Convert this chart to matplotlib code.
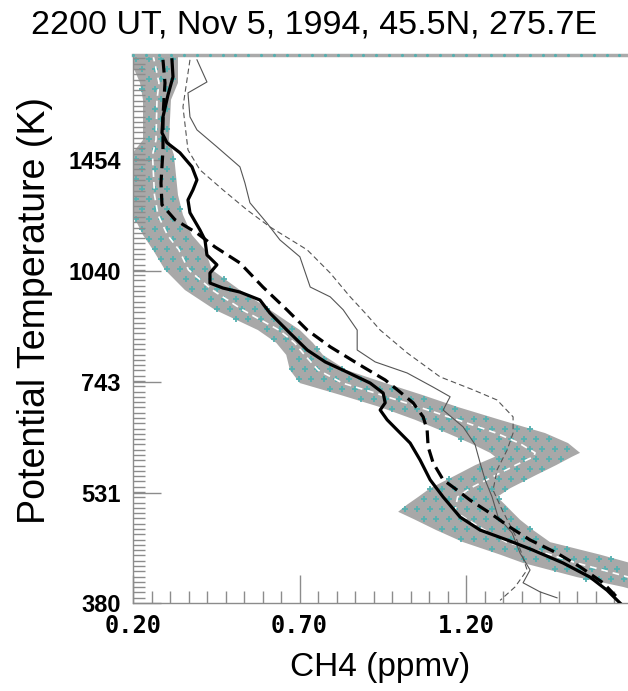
import numpy as np
import matplotlib
matplotlib.use("Agg")
import matplotlib.pyplot as plt
from matplotlib.path import Path
from matplotlib.ticker import FixedLocator, FixedFormatter, NullFormatter

plt.rcParams["font.family"] = ["Liberation Sans", "DejaVu Sans"]

# climatology band (theta in K, CH4 in ppmv): lower and upper edge
band_theta = [2001, 1838, 1746, 1546, 1477, 1309, 1232, 1159, 1108, 1043,
              981, 924, 869, 836, 806, 770, 740, 714, 688, 662,
              636, 617, 599, 592, 577, 560, 538, 524, 512, 501,
              489, 474, 457, 440, 429, 411, 399, 380]
band_lo = [0.185, 0.221, 0.230, 0.230, 0.194, 0.194, 0.200, 0.230, 0.260, 0.296,
           0.356, 0.446, 0.575, 0.630, 0.660, 0.671, 0.701, 0.822, 0.942, 1.047,
           1.143, 1.212, 1.272, 1.287, 1.227, 1.170, 1.092, 1.056, 1.023, 0.996,
           1.047, 1.110, 1.191, 1.302, 1.371, 1.533, 1.671, 1.843]
band_hi = [0.335, 0.335, 0.314, 0.308, 0.323, 0.335, 0.350, 0.377, 0.416, 0.437,
           0.521, 0.611, 0.701, 0.740, 0.770, 0.840, 0.957, 1.068, 1.176, 1.302,
           1.437, 1.506, 1.542, 1.518, 1.470, 1.410, 1.332, 1.293, 1.317, 1.338,
           1.362, 1.401, 1.452, 1.602, 1.693, 1.843, 1.963, 2.143]

# thick solid profile
solid_theta = [1971, 1872, 1772, 1658, 1580, 1533, 1487, 1425, 1370, 1329,
               1289, 1240, 1177, 1142, 1091, 1059, 1033, 1002, 987, 975,
               952, 915, 869, 818, 789, 765, 740, 718, 697, 682,
               662, 642, 617, 586, 552, 524, 493, 474, 460, 446,
               429, 411, 395, 380]
solid_ch4 = [0.317, 0.320, 0.305, 0.290, 0.287, 0.302, 0.341, 0.377, 0.392, 0.380,
             0.365, 0.371, 0.401, 0.416, 0.422, 0.452, 0.431, 0.431, 0.470, 0.521,
             0.581, 0.611, 0.662, 0.723, 0.777, 0.843, 0.912, 0.951, 0.957, 0.942,
             0.963, 0.993, 1.032, 1.062, 1.092, 1.131, 1.182, 1.242, 1.323, 1.401,
             1.491, 1.572, 1.623, 1.662]

# thick dashed profile
dash_theta = [1971, 1838, 1658, 1500, 1357, 1270, 1214, 1166, 1118, 1065,
              990, 924, 869, 826, 777, 747, 720, 697, 668, 642,
              610, 581, 552, 535, 519, 499, 478, 460, 442, 424, 404, 383]
dash_ch4 = [0.290, 0.296, 0.290, 0.290, 0.284, 0.287, 0.326, 0.392, 0.446, 0.521,
            0.590, 0.662, 0.723, 0.792, 0.891, 0.957, 1.002, 1.041, 1.071, 1.083,
            1.086, 1.101, 1.131, 1.173, 1.212, 1.272, 1.332, 1.392, 1.473, 1.542,
            1.611, 1.662]

# thin solid profile
thin_theta = [1971, 1843, 1783, 1658, 1594, 1514, 1425, 1357, 1278, 1202,
              1142, 1085, 990, 961, 924, 869, 818, 789, 763, 731,
              710, 682, 648, 614, 581, 552, 524, 493, 470, 442,
              420, 404, 393, 386]
thin_ch4 = [0.392, 0.422, 0.365, 0.371, 0.392, 0.452, 0.521, 0.536, 0.551, 0.602,
            0.641, 0.701, 0.732, 0.792, 0.831, 0.873, 0.873, 0.927, 1.023, 1.101,
            1.152, 1.131, 1.191, 1.227, 1.242, 1.257, 1.278, 1.296, 1.338, 1.362,
            1.392, 1.371, 1.422, 1.473]

# thin dashed profile
thind_theta = [1971, 1709, 1500, 1412, 1329, 1251, 1188, 1108, 1033, 961,
               915, 869, 811, 754, 725, 703, 668, 636, 604, 569,
               535, 504, 467, 440, 420, 399, 383]
thind_ch4 = [0.371, 0.350, 0.365, 0.401, 0.470, 0.542, 0.611, 0.723, 0.792, 0.852,
             0.897, 0.942, 1.023, 1.122, 1.221, 1.293, 1.341, 1.341, 1.323, 1.293,
             1.281, 1.308, 1.347, 1.368, 1.383, 1.347, 1.302]

theta_ticks = [380, 531, 743, 1040, 1454]
theta_labels = ["380", "531", "743", "1040", "1454"]
ch4_ticks = [0.20, 0.70, 1.20]
ch4_labels = ["0.20", "0.70", "1.20"]

W, H = 628, 691
fig = plt.figure(figsize=(W / 100, H / 100), dpi=100)
ax = fig.add_axes([133 / W, 88 / H, 495 / W, 548 / H])
ax.set_yscale("log")
ax.set_xlim(0.2, 1.686)
ax.set_ylim(380, 2000)

grey = "#a8a8a8"
teal = "#55b0b0"

lo = np.array(band_lo)
hi = np.array(band_hi)
th = np.array(band_theta)
ax.fill_betweenx(th, lo, hi, color=grey, lw=0, zorder=1)

# dotted '+' texture inside the band
verts = np.column_stack([np.r_[lo, hi[::-1]], np.r_[th, th[::-1]]])
poly = Path(ax.transData.transform(verts))
bb = ax.get_window_extent()
pts = []
for j, yy in enumerate(np.arange(bb.y0 + 4, bb.y1, 10.0)):
    off = 6.25 if j % 2 else 0.0
    for xx in np.arange(bb.x0 + 3 + off, bb.x1, 12.5):
        pts.append((xx, yy))
pts = np.array(pts)
pts = pts[poly.contains_points(pts)]
pd_ = ax.transData.inverted().transform(pts)
ax.plot(pd_[:, 0], pd_[:, 1], "+", color=teal, ms=4, mew=1.3, zorder=1.5)

ax.plot((lo + hi) / 2, th, color="white", lw=1.2, dashes=(4, 3), zorder=1.6)

ax.plot(thin_ch4, thin_theta, color="#555555", lw=0.8, zorder=2)
ax.plot(thind_ch4, thind_theta, color="#555555", lw=0.8, dashes=(5, 3), zorder=2)
ax.plot(dash_ch4, dash_theta, color="black", lw=2.3, dashes=(4, 2), zorder=3)
ax.plot(solid_ch4, solid_theta, color="black", lw=2.3, zorder=3)

# axes styling
ax.spines["right"].set_visible(False)
ax.spines["top"].set_color("#aaaaaa")
ax.spines["top"].set_linewidth(2.5)
for s in ["left", "bottom"]:
    ax.spines[s].set_color("#8c8c8c")
    ax.spines[s].set_linewidth(1.0)
tx = np.arange(0.0, 1.0, 12.8 / 495)
ax.plot(tx, np.ones_like(tx), ".", color=teal, ms=2.5, transform=ax.transAxes,
        clip_on=False, zorder=4)

ax.yaxis.set_major_locator(FixedLocator(theta_ticks))
ax.yaxis.set_major_formatter(FixedFormatter(theta_labels))
ax.yaxis.set_minor_locator(FixedLocator(380 * 1.4 ** (np.arange(0, 106) / 21)))
ax.yaxis.set_minor_formatter(NullFormatter())
ax.xaxis.set_major_locator(FixedLocator(ch4_ticks))
ax.xaxis.set_major_formatter(FixedFormatter(ch4_labels))
ax.xaxis.set_minor_locator(FixedLocator(np.arange(0.2, 1.69, 0.5 / 9)))

ax.tick_params(which="major", direction="in", length=20, width=1, color="#8c8c8c")
ax.tick_params(which="minor", direction="in", length=8.5, width=1, color="#8c8c8c")
ax.tick_params(axis="y", which="major", labelsize=17, pad=9)
ax.tick_params(axis="x", which="major", labelsize=17, pad=8)
for lbl in ax.get_yticklabels():
    lbl.set_fontweight("bold")
for lbl in ax.get_xticklabels():
    lbl.set_family("DejaVu Sans Mono")
    lbl.set_fontweight("bold")

fig.text(0.5, 1 - 33 / H, "2200 UT, Nov 5, 1994, 45.5N, 275.7E",
         ha="center", va="baseline", fontsize=24.5)
fig.text(380 / W, 1 - 676 / H, "CH4 (ppmv)", ha="center", va="baseline", fontsize=24)
fig.text(35 / W, 1 - 311 / H, "Potential Temperature (K)", rotation=90,
         ha="center", va="center", fontsize=27)

fig.savefig("out.png", dpi=100)
